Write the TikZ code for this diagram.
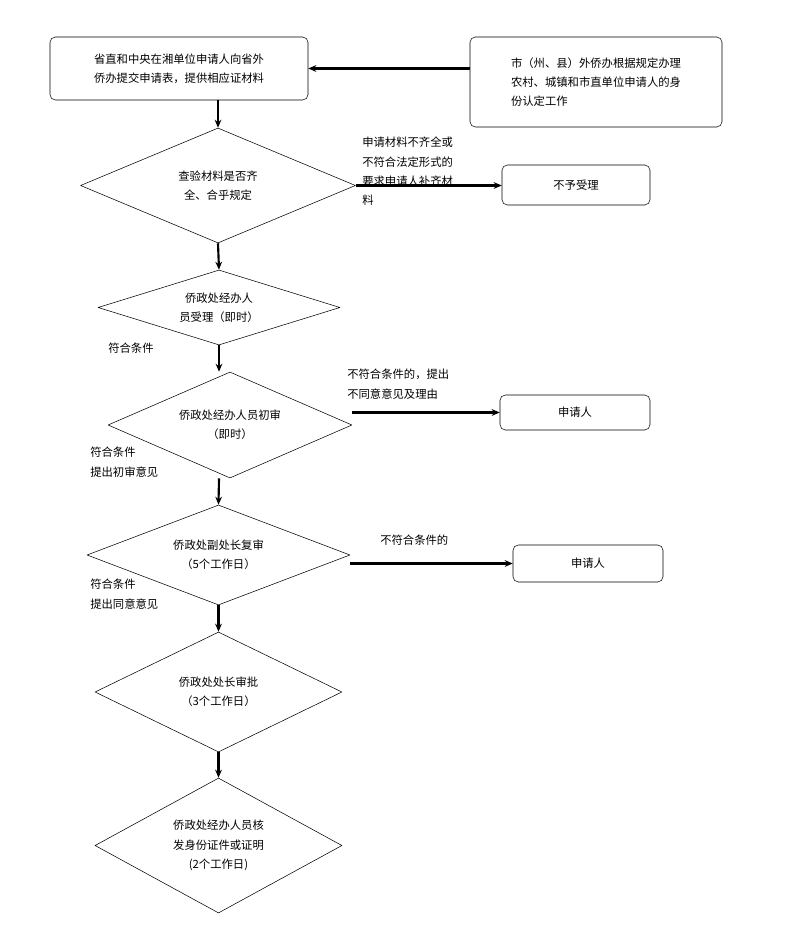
\documentclass[tikz,border=0pt]{standalone}
\usepackage{fontspec}
\newfontfamily\cjk{Noto Sans CJK SC}
\usetikzlibrary{shapes.geometric,arrows.meta}
\tikzset{
  box/.style={draw,rounded corners=4pt,inner sep=0pt,align=left},
  dec/.style={draw,diamond,inner sep=0pt,align=center},
  flow/.style={-{Stealth[length=6pt,width=5pt]},line width=1.6pt},
  lbl/.style={align=left,anchor=north west,inner sep=0pt},
  sz/.style 2 args={minimum width={#1*0.75pt},minimum height={#2*0.75pt}}
}
\begin{document}
\begin{tikzpicture}[x=0.75pt,y=-0.75pt,font=\cjk\fontsize{8.5}{14.5}\selectfont,line join=round]
\useasboundingbox (0,0) rectangle (804,945);
% top boxes
\node[box,sz={258}{63},inner xsep=5pt] (apply) at (179,68.5)
  {省直和中央在湘单位申请人向省外\\侨办提交申请表，提供相应证材料};
\node[box,sz={252}{90},inner xsep=6pt] (city) at (596,82)
  {市（州、县）外侨办根据规定办理\\农村、城镇和市直单位申请人的身\\份认定工作};
% decisions
\node[dec,sz={275}{115},shape aspect=2.4] (check) at (218,185.5) {查验材料是否齐\\全、合乎规定};
\node[dec,sz={242}{75},shape aspect=3.2] (accept) at (219,307.5) {侨政处经办人\\员受理（即时）};
\node[dec,sz={244}{106},shape aspect=2.3] (first) at (230,425) {侨政处经办人员初审\\（即时）};
\node[dec,sz={263}{100},shape aspect=2.6] (second) at (218.5,555) {侨政处副处长复审\\（5个工作日）};
\node[dec,sz={247}{120},shape aspect=2.1] (head) at (218.5,692) {侨政处处长审批\\（3个工作日）};
\node[dec,sz={247}{135},shape aspect=1.8] (issue) at (218.5,845.5) {侨政处经办人员核\\发身份证件或证明\\(2个工作日)};
% side boxes
\node[box,align=center,sz={148}{40}] (reject) at (576,185) {不予受理};
\node[box,align=center,sz={150}{35}] (appA) at (575,412.5) {申请人};
\node[box,align=center,sz={150}{37}] (appB) at (588,563.5) {申请人};
% connectors
\draw[flow] (city.west |- apply.east) -- (apply.east);
\draw[flow] (apply.south -| check.north) -- (check.north);
\draw[flow] (check.south) -- (accept.north);
\draw[flow] (accept.south) -- (accept.south |- first.north);
\draw[flow] (accept.south |- first.south) -- (second.north);
\draw[flow] (second.south) -- (head.north);
\draw[flow] (head.south) -- (issue.north);
\draw[flow] (check.east) -- (check.east -| reject.west);
\draw[flow] (first.east |- appA.west) -- (appA.west);
\draw[flow] (second.east |- appB.west) -- (appB.west);
% labels
\node[lbl] at (362,137) {申请材料不齐全或\\不符合法定形式的\\要求申请人补齐材\\料};
\node[lbl] at (108,343) {符合条件};
\node[lbl] at (347,369) {不符合条件的，提出\\不同意意见及理由};
\node[lbl] at (90,447) {符合条件\\提出初审意见};
\node[lbl] at (380,535) {不符合条件的};
\node[lbl] at (90,579) {符合条件\\提出同意意见};
\end{tikzpicture}
\end{document}
